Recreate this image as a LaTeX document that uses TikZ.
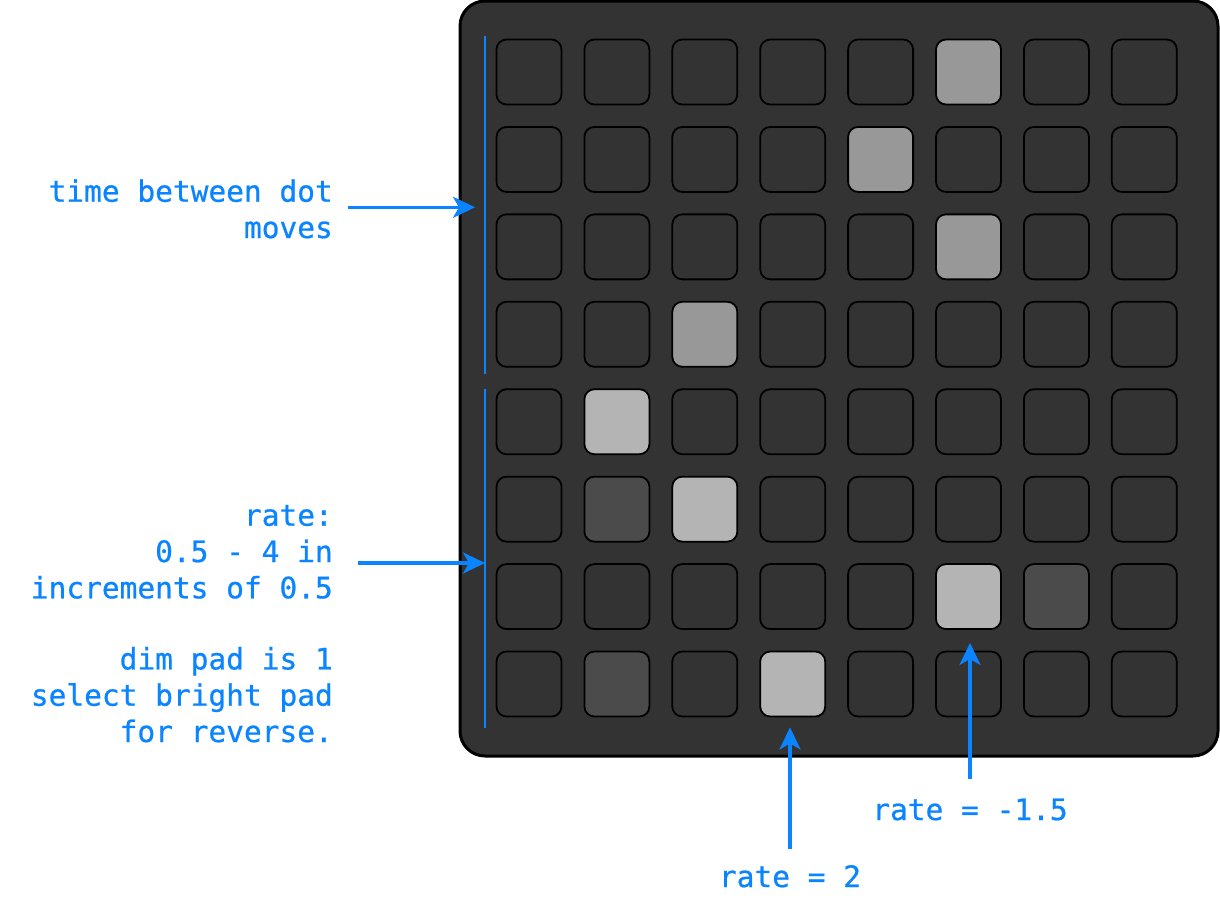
\documentclass[tikz,border=0pt]{standalone}
\usepackage{fontspec}
\setmonofont{DejaVu Sans Mono}[FakeBold=0.7]
\usetikzlibrary{arrows.meta}
\definecolor{boardgray}{RGB}{51,51,51}
\definecolor{litgray}{RGB}{152,152,152}
\definecolor{brightgray}{RGB}{180,180,180}
\definecolor{dimgray}{RGB}{75,75,75}
\definecolor{noteblue}{RGB}{10,132,255}
\tikzstyle{board} = [
    rectangle,
    rounded corners=25pt,
    minimum width=758pt,
    minimum height=755pt,
    fill=boardgray,
    draw=black,
    line width=3pt
]
\tikzstyle{pad} = [
    rectangle,
    rounded corners=10pt,
    minimum size=65pt,
    inner sep=0pt,
    fill=boardgray,
    draw=black,
    line width=1.8pt
]
\tikzstyle{note} = [
    font=\ttfamily\fontsize{29.5}{36.3}\selectfont,
    text=noteblue,
    inner sep=0pt,
    align=right
]
\tikzstyle{bar} = [noteblue, line width=2.2pt]
\tikzstyle{arrow} = [noteblue, line width=3.5pt,
    -{Stealth[length=22pt, width=21pt, inset=6pt]}]
% lit pads (row-column)
\tikzset{
    pad-1-6/.style={fill=litgray},
    pad-2-5/.style={fill=litgray},
    pad-3-6/.style={fill=litgray},
    pad-4-3/.style={fill=litgray},
    pad-5-2/.style={fill=brightgray},
    pad-6-2/.style={fill=dimgray},
    pad-6-3/.style={fill=brightgray},
    pad-7-6/.style={fill=brightgray},
    pad-7-7/.style={fill=dimgray},
    pad-8-2/.style={fill=dimgray},
    pad-8-4/.style={fill=brightgray}
}

\begin{document}
\begin{tikzpicture}[x=1pt, y=-1pt]
\useasboundingbox (0,0) rectangle (1220,900);

\node (grid) [board] at (839,378.5) {};

\foreach \r in {1,...,8} {
    \foreach \c in {1,...,8} {
        \node (p-\r-\c) [pad, pad-\r-\c/.try]
            at ({529+87.9*(\c-1)}, {72+87.43*(\r-1)}) {};
    }
}

% side bars
\coordinate (tbar-top) at (485.3,36);
\coordinate (tbar-bot) at (485.3,374);
\coordinate (rbar-top) at (485.3,389);
\coordinate (rbar-bot) at (485.3,728);
\draw [bar] (tbar-top) -- (tbar-bot);
\draw [bar] (rbar-top) -- (rbar-bot);

% notes (base = last line)
\node (timelabel) [note, anchor=base east] at (333,238)
{time between dot\\moves};
\node (ratelabel) [note, anchor=base east] at (333,598.3)
{rate:\\0.5 - 4 in\\increments of 0.5};
\node (padlabel) [note, anchor=base east] at (333,742)
{dim pad is 1\\select bright pad\\for reverse.};
\node (rtwolabel) [note, anchor=base] at (790,887) {rate = 2};
\node (rneglabel) [note, anchor=base] at (970,820) {rate = -1.5};

\coordinate (time-tail) at (348,207.3);
\coordinate (time-tip) at (475,207.3);
\coordinate (rate-tail) at (358,563);
\coordinate (rate-tip) at (485,563);
\coordinate (rtwo-tail) at (790,849);
\coordinate (rneg-tail) at (970,779);

\draw [arrow] (time-tail) -- (time-tip);
\draw [arrow] (rate-tail) -- (rate-tip);
\draw [arrow, shorten >=10pt] (rtwo-tail) -- (rtwo-tail |- p-8-4.south);
\draw [arrow, shorten >=13pt] (rneg-tail) -- (rneg-tail |- p-7-6.south);

\end{tikzpicture}
\end{document}
